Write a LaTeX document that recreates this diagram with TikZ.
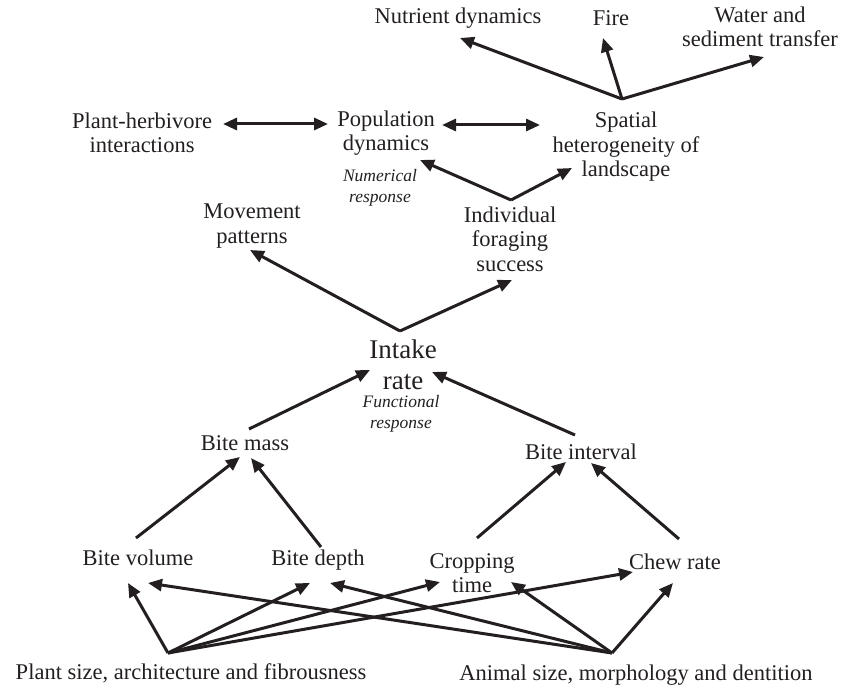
\documentclass[tikz,border=0pt]{standalone}
\usepackage{fontspec}
\setmainfont{Liberation Serif}
\usetikzlibrary{arrows.meta}
\definecolor{ink}{HTML}{231F20}
\begin{document}
\begin{tikzpicture}[x=1pt,y=-1pt,
  lbl/.style={text=ink,align=center,inner sep=0pt,font=\fontsize{22.5}{24.5}\selectfont},
  biglbl/.style={text=ink,align=center,inner sep=0pt,font=\fontsize{27}{31}\selectfont},
  itlbl/.style={text=ink,align=center,inner sep=0pt,font=\fontsize{17.5}{21}\selectfont\itshape},
  arr/.style={draw=ink,line width=3pt,-{Triangle[length=14pt,width=12pt]}},
  darr/.style={draw=ink,line width=3pt,{Triangle[length=14pt,width=12pt]}-{Triangle[length=14pt,width=12pt]}}]
\useasboundingbox (0,0) rectangle (843,687);
% texts
\node[lbl] (nut) at (458,18) {Nutrient dynamics};
\node[lbl] (fire) at (611,18) {Fire};
\node[lbl] (water) at (760,27) {Water and\\sediment transfer};
\node[lbl] (ph) at (142,133) {Plant-herbivore\\interactions};
\node[lbl] (pop) at (386,133) {Population\\dynamics};
\node[lbl] (spat) at (626,147) {Spatial\\heterogeneity of\\landscape};
\node[itlbl] (num) at (380,188) {Numerical\\response};
\node[lbl] (move) at (252,226) {Movement\\patterns};
\node[lbl] (ind) at (510,239) {Individual\\foraging\\success};
\node[biglbl] (intake) at (403,365) {Intake\\rate};
\node[itlbl] (func) at (401,414) {Functional\\response};
\node[lbl] (bmass) at (245,443) {Bite mass};
\node[lbl] (bint) at (581,452) {Bite interval};
\node[lbl] (bvol) at (138,558) {Bite volume};
\node[lbl] (bdep) at (318,560) {Bite depth};
\node[lbl] (crop) at (472,573) {Cropping\\time};
\node[lbl] (chew) at (675,562) {Chew rate};
\node[lbl] (plant) at (191,673) {Plant size, architecture and fibrousness};
\node[lbl] (animal) at (636,675) {Animal size, morphology and dentition};
% connector points
\coordinate (sA) at (622,99);
\coordinate (tNut) at (460,38);
\coordinate (tFire) at (603,38);
\coordinate (tWater) at (764,57);
\coordinate (phR) at (223,124);
\coordinate (popL) at (328,124);
\coordinate (popR) at (442,125);
\coordinate (spL) at (540,125);
\coordinate (iA) at (511,200);
\coordinate (tPop) at (420,160);
\coordinate (tSp) at (572,168);
\coordinate (inA) at (400,331);
\coordinate (tMove) at (250,250);
\coordinate (tInd) at (512,280);
\coordinate (bmS) at (249,429);
\coordinate (tInL) at (370,370);
\coordinate (biS) at (575,435);
\coordinate (tInR) at (432,372);
\coordinate (bvS) at (136,538);
\coordinate (tBmL) at (240,457);
\coordinate (bdS) at (321,547);
\coordinate (tBmR) at (251,458);
\coordinate (ctS) at (477,538);
\coordinate (tBiL) at (566,462);
\coordinate (crS) at (679,539);
\coordinate (tBiR) at (591,463);
\coordinate (pA) at (168,653);
\coordinate (aA) at (612,653);
\coordinate (tVolP) at (128,583);
\coordinate (tDepP) at (310,583);
\coordinate (tCropP) at (440,582);
\coordinate (tChewP) at (633,572);
\coordinate (tVolA) at (148,583);
\coordinate (tDepA) at (330,583);
\coordinate (tCropA) at (511,582);
\coordinate (tChewA) at (673,583);
% connectors
\draw[arr] (sA) -- (tNut);
\draw[arr] (sA) -- (tFire);
\draw[arr] (sA) -- (tWater);
\draw[darr] (phR) -- (popL);
\draw[darr] (popR) -- (spL);
\draw[arr] (iA) -- (tPop);
\draw[arr] (iA) -- (tSp);
\draw[arr] (inA) -- (tMove);
\draw[arr] (inA) -- (tInd);
\draw[arr] (bmS) -- (tInL);
\draw[arr] (biS) -- (tInR);
\draw[arr] (bvS) -- (tBmL);
\draw[arr] (bdS) -- (tBmR);
\draw[arr] (ctS) -- (tBiL);
\draw[arr] (crS) -- (tBiR);
\draw[arr] (pA) -- (tVolP);
\draw[arr] (pA) -- (tDepP);
\draw[arr] (pA) -- (tCropP);
\draw[arr] (pA) -- (tChewP);
\draw[arr] (aA) -- (tVolA);
\draw[arr] (aA) -- (tDepA);
\draw[arr] (aA) -- (tCropA);
\draw[arr] (aA) -- (tChewA);
\end{tikzpicture}
\end{document}
